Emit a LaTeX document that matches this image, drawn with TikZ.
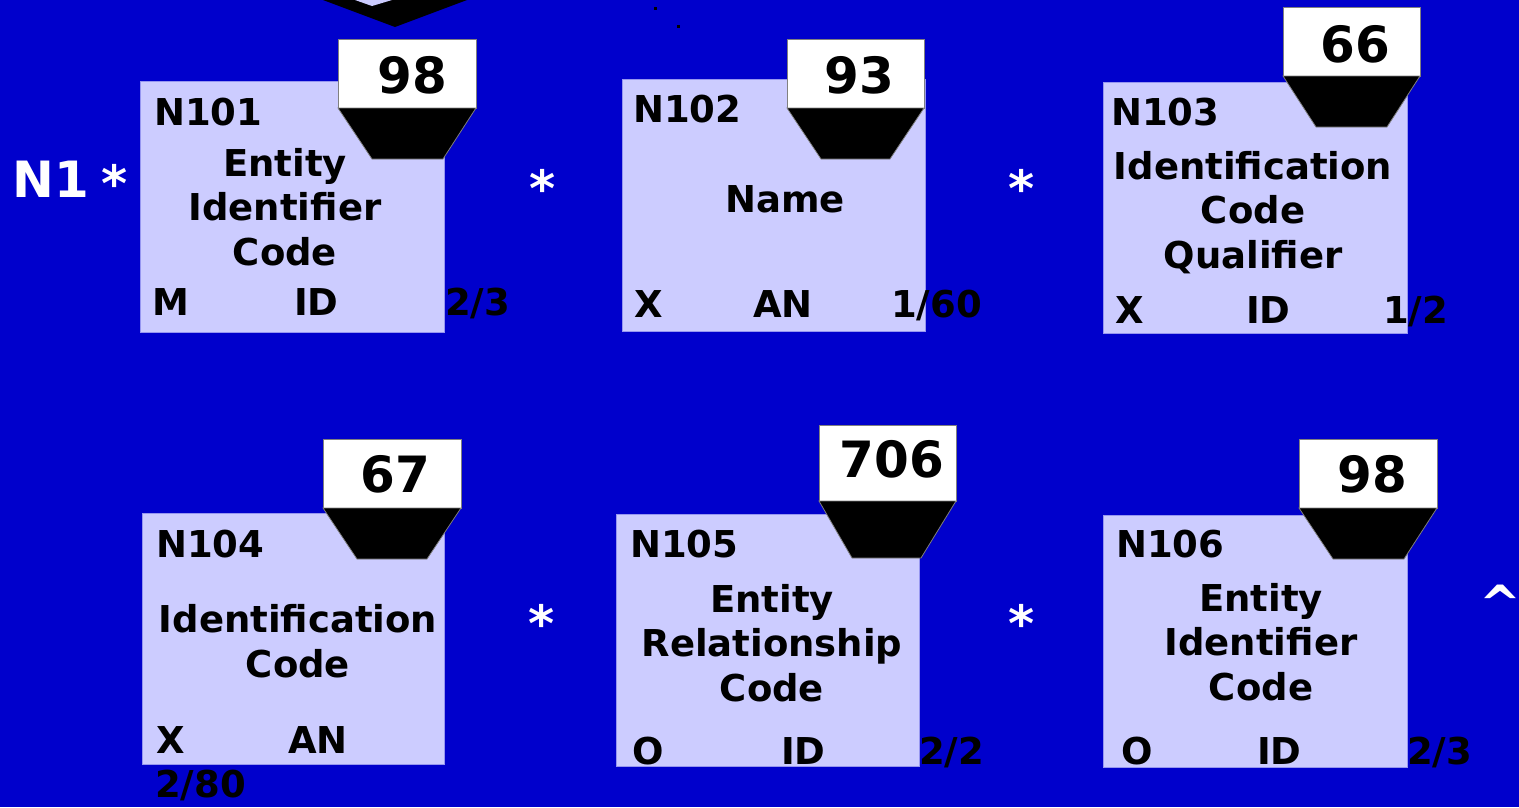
\documentclass[tikz,border=0pt]{standalone}
\usepackage{fontspec}
\setmainfont{DejaVu Sans}[BoldFont={DejaVu Sans Bold}]
\usepackage{tikz}
\usetikzlibrary{positioning}
\definecolor{bgblue}{RGB}{0,0,204}
\definecolor{lav}{RGB}{204,204,255}
\definecolor{lavedge}{RGB}{150,150,240}
\tikzset{
    segbox/.style={fill=lav, draw=lavedge, line width=0.8pt},
    % white tab with repeat count and the black funnel under it
    reptab/.style={fill=white, draw=gray, line width=0.8pt},
    repfunnel/.style={fill=black, draw=gray, line width=0.8pt},
    elemlbl/.style={inner sep=0pt, anchor=base west, font=\bfseries\fontsize{37}{44.5}\selectfont},
    elemname/.style={inner sep=0pt, anchor=base, align=center, font=\bfseries\fontsize{37}{44.5}\selectfont},
    repnum/.style={inner sep=0pt, anchor=base, font=\bfseries\fontsize{50}{60}\selectfont},
    sepmark/.style={inner sep=0pt, anchor=base, white, font=\bfseries\fontsize{50}{60}\selectfont}
}

\begin{document}
\begin{tikzpicture}[x=1pt, y=-1pt]
	\fill[bgblue] (0,0) rectangle (1519,807);
	\useasboundingbox (0,0) rectangle (1519,807);

	% bits of the segment above
	\fill[black] (323,0) -- (467,0) -- (395,27) -- cycle;
	\fill[lav] (355,0) -- (392,0) -- (372,6) -- cycle;
	\fill[black] (654,7) rectangle (657,10);
	\fill[black] (677,25) rectangle (680,28);

	\node (n1) [elemlbl, white, font=\bfseries\fontsize{50}{60}\selectfont] at (12,197) {N1};
	\node (s0) [sepmark] at (115,201) {*};
	\node (s1) [sepmark] at (543,206) {*};
	\node (s2) [sepmark] at (1022,206) {*};
	\node (s3) [sepmark] at (542,641) {*};
	\node (s4) [sepmark] at (1022,641) {*};
	\node (up) [sepmark] at (1500,621) {\textasciicircum};

	% N101 (base of a multi-line name is its last line)
	\draw[segbox] (140,81) rectangle (444,332);
	\draw[reptab] (338,39) rectangle (476,108);
	\draw[repfunnel] (338,108) -- (476,108) -- (443,159) -- (372,159) -- cycle;
	\node (r101) [repnum] at (412,93) {98};
	\node (n101) [elemlbl] at (154,125) {N101};
	\node (t101) [elemname] at (285,265) {Entity\\Identifier\\Code};
	\node (m101) [elemlbl] at (152,315) {M};
	\node (d101) [elemlbl] at (294,315) {ID};
	\node (l101) [elemlbl] at (445,315) {2/3};

	% N102
	\draw[segbox] (622,79) rectangle (925,331);
	\draw[reptab] (787,39) rectangle (924,108);
	\draw[repfunnel] (787,108) -- (924,108) -- (890,159) -- (821,159) -- cycle;
	\node (r102) [repnum] at (859,93) {93};
	\node (n102) [elemlbl] at (633,122) {N102};
	\node (t102) [elemname] at (785,212) {Name};
	\node (m102) [elemlbl] at (634,317) {X};
	\node (d102) [elemlbl] at (753,317) {AN};
	\node (l102) [elemlbl] at (891,317) {1/60};

	% N103
	\draw[segbox] (1103,82) rectangle (1407,333);
	\draw[reptab] (1283,7) rectangle (1420,76);
	\draw[repfunnel] (1283,76) -- (1420,76) -- (1387,127) -- (1316,127) -- cycle;
	\node (r103) [repnum] at (1355,62) {66};
	\node (n103) [elemlbl] at (1111,125) {N103};
	\node (t103) [elemname] at (1253,268) {Identification\\Code\\Qualifier};
	\node (m103) [elemlbl] at (1115,323) {X};
	\node (d103) [elemlbl] at (1246,323) {ID};
	\node (l103) [elemlbl] at (1383,323) {1/2};

	% N104
	\draw[segbox] (142,513) rectangle (444,764);
	\draw[reptab] (323,439) rectangle (461,508);
	\draw[repfunnel] (323,508) -- (461,508) -- (427,559) -- (357,559) -- cycle;
	\node (r104) [repnum] at (395,492) {67};
	\node (n104) [elemlbl] at (156,557) {N104};
	\node (t104) [elemname] at (298,677) {Identification\\Code};
	\node (m104) [elemlbl] at (156,753) {X};
	\node (d104) [elemlbl] at (288,753) {AN};
	\node (l104) [elemlbl] at (155,797) {2/80};

	% N105
	\draw[segbox] (616,514) rectangle (919,766);
	\draw[reptab] (819,425) rectangle (956,501);
	\draw[repfunnel] (819,501) -- (956,501) -- (921,558) -- (852,558) -- cycle;
	\node (r105) [repnum] at (892,477) {706};
	\node (n105) [elemlbl] at (630,557) {N105};
	\node (t105) [elemname] at (772,701) {Entity\\Relationship\\Code};
	\node (m105) [elemlbl] at (632,764) {O};
	\node (d105) [elemlbl] at (781,764) {ID};
	\node (l105) [elemlbl] at (919,764) {2/2};

	% N106
	\draw[segbox] (1103,515) rectangle (1407,767);
	\draw[reptab] (1299,439) rectangle (1437,508);
	\draw[repfunnel] (1299,508) -- (1437,508) -- (1404,559) -- (1333,559) -- cycle;
	\node (r106) [repnum] at (1372,492) {98};
	\node (n106) [elemlbl] at (1116,557) {N106};
	\node (t106) [elemname] at (1261,700) {Entity\\Identifier\\Code};
	\node (m106) [elemlbl] at (1121,764) {O};
	\node (d106) [elemlbl] at (1257,764) {ID};
	\node (l106) [elemlbl] at (1407,764) {2/3};
\end{tikzpicture}
\end{document}
